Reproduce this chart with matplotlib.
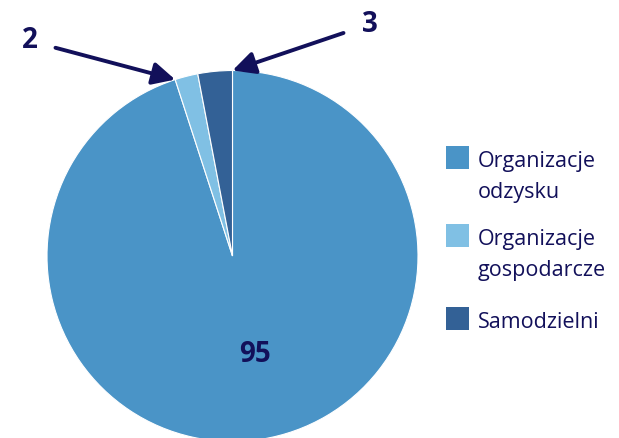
import numpy as np
import matplotlib.pyplot as plt
from matplotlib.patches import Rectangle

labels = ["Organizacje\nodzysku", "Organizacje\ngospodarcze", "Samodzielni"]
values = [95, 2, 3]
colors = ["#4A94C7", "#80C0E4", "#336196"]
navy = "#12105A"

plt.rcParams['font.family'] = ['Open Sans', 'DejaVu Sans']

W, H = 619, 438
fig = plt.figure(figsize=(W / 100, H / 100), dpi=100)

# pie centre (232.5, 256) px from top, radius 185.5 px
cx, cy, R = 232.5, 256, 185.5
ax = fig.add_axes([(cx - R) / W, (H - cy - R) / H, 2 * R / W, 2 * R / H])
ax.pie(values, colors=colors, startangle=90, counterclock=False, radius=1,
       wedgeprops=dict(edgecolor="white", linewidth=0.8))
ax.set_xlim(-1, 1)
ax.set_ylim(-1, 1)
ax.set_aspect("auto")
ax.axis("off")

total = sum(values)
ax.text(0.12, -0.53, str(values[0]), ha="center", va="center",
        fontsize=20, fontweight="bold", color=navy)

arrow = dict(arrowstyle="-|>", color=navy, lw=2.8, mutation_scale=34, shrinkB=0)

# slice 2: arrow to the boundary between slice 1 and 2
ang2 = np.radians(90 - 360 * values[0] / total)
ax.annotate(str(values[1]), xy=(np.cos(ang2), np.sin(ang2)),
            xytext=(30 / W, 1 - 41 / H), textcoords="figure fraction",
            ha="center", va="center", fontsize=20, fontweight="bold", color=navy,
            arrowprops=dict(arrow, shrinkA=11))
# slice 3: arrow to the top of the pie
ax.annotate(str(values[2]), xy=(0, 1),
            xytext=(370 / W, 1 - 24 / H), textcoords="figure fraction",
            ha="center", va="center", fontsize=20, fontweight="bold", color=navy,
            arrowprops=dict(arrow, shrinkA=12))

# legend drawn by hand
sq_tops = [146, 224, 307]
for lab, col, top in zip(labels, colors, sq_tops):
    fig.patches.append(Rectangle((446 / W, 1 - (top + 23) / H), 23 / W, 23 / H,
                                 transform=fig.transFigure, facecolor=col,
                                 edgecolor="none"))
    lines = lab.split("\n")
    for k, line in enumerate(lines):
        fig.text(478 / W, 1 - (top + 21 + 31 * k) / H, line, ha="left",
                 va="baseline", fontsize=15.5, color=navy)

fig.savefig("out.png", dpi=100)
